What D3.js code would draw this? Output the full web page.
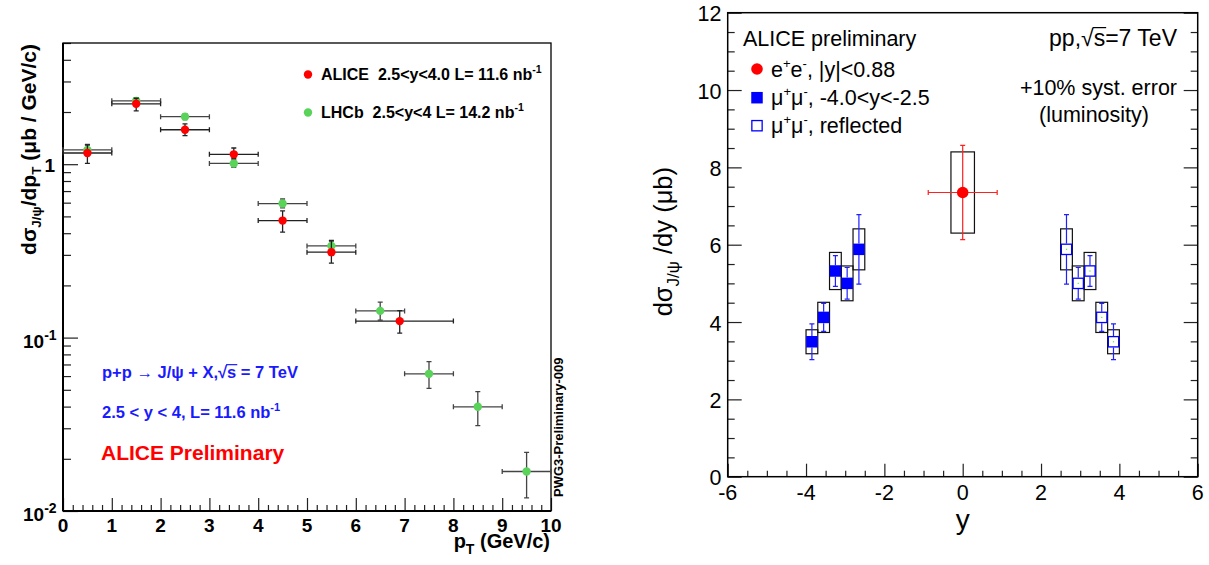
<!DOCTYPE html>
<html><head><meta charset="utf-8">
<script src="https://cdn.jsdelivr.net/npm/d3@7"></script>
<style>
body{margin:0;background:#fff}
svg{display:block}
text{font-family:"Liberation Sans",Arial,Helvetica,sans-serif;white-space:pre}
</style>
</head><body>
<svg id="c" width="1209" height="565"></svg>
<script>
// ---------- LEFT PANEL DATA (dsigma/dpT, log scale) ----------
const aliceX   = [0.5, 1.5, 2.5, 3.5, 4.5, 5.5, 6.9];
const aliceXlo = [0, 1, 2, 3, 4, 5, 6];
const aliceXhi = [1, 2, 3, 4, 5, 6, 8];
const aliceY   = [1.16, 2.23, 1.58, 1.14, 0.473, 0.311, 0.1245];
const aliceYhi = [1.29, 2.40, 1.71, 1.24, 0.538, 0.363, 0.143];
const aliceYlo = [1.01, 2.03, 1.46, 1.077, 0.406, 0.269, 0.106];

const lhcbX   = [0.5, 1.5, 2.5, 3.5, 4.5, 5.5, 6.5, 7.5, 8.5, 9.5];
const lhcbY   = [1.21, 2.32, 1.88, 1.01, 0.593, 0.338, 0.1426, 0.0618, 0.0399, 0.0169];
const lhcbYhi = [1.30, 2.42, 1.95, 1.06, 0.63, 0.36, 0.160, 0.0727, 0.0488, 0.0218];
const lhcbYlo = [1.12, 2.22, 1.81, 0.96, 0.56, 0.32, 0.126, 0.0509, 0.0311, 0.0119];

const leftXTicks = [0,1,2,3,4,5,6,7,8,9,10];
const leftXTickLabels = ["0","1","2","3","4","5","6","7","8","9","10"];
const leftYTicks = [0.01, 0.1, 1];
const leftYTickBase = ["10","10","1"];
const leftYTickSup  = ["-2","-1",""];

// ---------- RIGHT PANEL DATA (dsigma/dy) ----------
const muY    = [-3.85, -3.55, -3.25, -2.95, -2.65];
const muVal  = [3.49, 4.12, 5.32, 5.00, 5.88];
const muStat = [0.46, 0.36, 0.40, 0.41, 0.90];
const muSyst = [0.31, 0.39, 0.48, 0.45, 0.53];
const muBinHalf = 0.15;

const eeY = [0];
const eeVal = [7.35];
const eeStat = [1.22];
const eeXerr = [0.88];
const eeSyst = [1.05];
const eeBoxHalf = 0.3;

const rightXTicks = [-6,-4,-2,0,2,4,6];
const rightXTickLabels = ["-6","-4","-2","0","2","4","6"];
const rightYTicks = [0,2,4,6,8,10,12];
const rightYTickLabels = ["0","2","4","6","8","10","12"];

const svg = d3.select("#c");

function overline(textSel, idx, col){
  const n = textSel.node();
  const a = n.getStartPositionOfChar(idx), b = n.getEndPositionOfChar(idx);
  const ext = n.getExtentOfChar(idx);
  const ytop = ext.y + ext.height*0.12;
  svg.append("line").attr("x1",a.x-1).attr("x2",b.x+1).attr("y1",ytop).attr("y2",ytop)
    .attr("stroke", col||"#000").attr("stroke-width",1.2);
}

// ================= LEFT PANEL =================
const xL = d3.scaleLinear().domain([0,10]).range([63,551]);
const yL = d3.scaleLog().domain([0.01,5]).range([511,43]);
const gL = svg.append("g");

const minorXL = d3.range(0,10.001,0.2).filter(v=>Math.abs(v-Math.round(v))>1e-6);
gL.append("g").attr("transform",`translate(0,${yL(0.01)})`)
  .call(d3.axisBottom(xL).tickValues(minorXL).tickSize(-6).tickFormat(""))
  .call(g=>g.select(".domain").remove());
gL.append("g").attr("transform",`translate(0,${yL(0.01)})`)
  .call(d3.axisBottom(xL).tickValues(leftXTicks).tickSize(-13).tickFormat(""))
  .call(g=>g.select(".domain").remove());
const minorYL=[];
[0.01,0.1,1].forEach(d=>{for(let k=2;k<=9;k++){const v=k*d; if(v<=5) minorYL.push(v);}});
gL.append("g").attr("transform",`translate(${xL(0)},0)`)
  .call(d3.axisLeft(yL).tickValues(minorYL).tickSize(-8).tickFormat(""))
  .call(g=>g.select(".domain").remove());
gL.append("g").attr("transform",`translate(${xL(0)},0)`)
  .call(d3.axisLeft(yL).tickValues(leftYTicks).tickSize(-15).tickFormat(""))
  .call(g=>g.select(".domain").remove());
gL.selectAll(".tick line").attr("stroke","#222").attr("stroke-width",1.2);

gL.append("rect").attr("x",xL(0)).attr("y",yL(5)).attr("width",xL(10)-xL(0)).attr("height",yL(0.01)-yL(5))
  .attr("fill","none").attr("stroke","#000").attr("stroke-width",1.3);
gL.append("line").attr("x1",xL(0)).attr("x2",xL(0)).attr("y1",yL(5)).attr("y2",yL(0.01)).attr("stroke","#000").attr("stroke-width",2);
gL.append("line").attr("x1",xL(0)).attr("x2",xL(10)).attr("y1",yL(0.01)).attr("y2",yL(0.01)).attr("stroke","#000").attr("stroke-width",2);

leftXTicks.forEach((v,i)=>{
  gL.append("text").attr("x",xL(v)).attr("y",531.5).attr("text-anchor","middle")
    .attr("font-size",19).attr("font-weight","bold").text(leftXTickLabels[i]);
});
leftYTicks.forEach((v,i)=>{
  const t = gL.append("text").attr("font-size",19).attr("font-weight","bold");
  if(leftYTickSup[i]){
    t.attr("x",23).attr("y",yL(v)+10);
    t.append("tspan").text(leftYTickBase[i]);
    t.append("tspan").attr("font-size",14).attr("dy",-8).text(leftYTickSup[i]);
  } else {
    t.attr("x",55).attr("y",yL(v)+8).attr("text-anchor","end").text(leftYTickBase[i]);
  }
});

const ytl = gL.append("text").attr("transform","translate(36,44) rotate(-90)")
  .attr("text-anchor","end").attr("font-size",21).attr("font-weight","bold");
ytl.append("tspan").text("dσ");
ytl.append("tspan").attr("font-size",13.5).attr("dy",5).text("J/ψ");
ytl.append("tspan").attr("dy",-5).text("/dp");
ytl.append("tspan").attr("font-size",13.5).attr("dy",5).text("T");
ytl.append("tspan").attr("dy",-5).text(" (μb / GeV/c)");

const xtl = gL.append("text").attr("x",550).attr("y",548).attr("text-anchor","end")
  .attr("font-size",20).attr("font-weight","bold");
xtl.append("tspan").text("p");
xtl.append("tspan").attr("font-size",14).attr("dy",6).text("T");
xtl.append("tspan").attr("dy",-6).text(" (GeV/c)");

function errBarsLog(g, X, Xlo, Xhi, Y, Ylo, Yhi, col){
  const cap=2.5;
  X.forEach((x,i)=>{
    const cx=xL(x), cy=yL(Y[i]);
    const x0=xL(Xlo[i]), x1=xL(Xhi[i]);
    const y0=yL(Ylo[i]), y1=yL(Yhi[i]);
    const p = `M${x0},${cy}H${x1}M${x0},${cy-cap}V${cy+cap}M${x1},${cy-cap}V${cy+cap}`+
              `M${cx},${y0}V${y1}M${cx-cap},${y0}H${cx+cap}M${cx-cap},${y1}H${cx+cap}`;
    g.append("path").attr("d",p).attr("stroke",col).attr("stroke-width",1.3).attr("fill","none");
  });
}
errBarsLog(gL, lhcbX, lhcbX.map(v=>v-0.5), lhcbX.map(v=>v+0.5), lhcbY, lhcbYlo, lhcbYhi, "#444");
lhcbX.forEach((x,i)=>gL.append("circle").attr("cx",xL(x)).attr("cy",yL(lhcbY[i])).attr("r",4.2).attr("fill","#5ad35a"));
errBarsLog(gL, aliceX, aliceXlo, aliceXhi, aliceY, aliceYlo, aliceYhi, "#222");
aliceX.forEach((x,i)=>gL.append("circle").attr("cx",xL(x)).attr("cy",yL(aliceY[i])).attr("r",4.2).attr("fill","#ff0000"));

// legend
gL.append("circle").attr("cx",308).attr("cy",74.5).attr("r",4.2).attr("fill","#ff0000");
const l1 = gL.append("text").attr("x",321).attr("y",80).attr("font-size",16).attr("font-weight","bold");
l1.append("tspan").text("ALICE  2.5<y<4.0 L= 11.6 nb");
l1.append("tspan").attr("font-size",10.5).attr("dy",-7).text("-1");
gL.append("circle").attr("cx",308).attr("cy",112.5).attr("r",4.2).attr("fill","#5ad35a");
const l2 = gL.append("text").attr("x",321).attr("y",118).attr("font-size",16).attr("font-weight","bold");
l2.append("tspan").text("LHCb  2.5<y<4 L= 14.2 nb");
l2.append("tspan").attr("font-size",10.5).attr("dy",-7).text("-1");

// blue annotations
const b1 = gL.append("text").attr("x",102).attr("y",377.5).attr("font-size",16.5).attr("font-weight","bold").attr("fill","#1a1aff")
  .text("p+p → J/ψ + X,√s = 7 TeV");
overline(b1, "p+p → J/ψ + X,√".length, "#1a1aff");
const b2 = gL.append("text").attr("x",102).attr("y",417.5).attr("font-size",16.5).attr("font-weight","bold").attr("fill","#1a1aff");
b2.append("tspan").text("2.5 < y < 4, L= 11.6 nb");
b2.append("tspan").attr("font-size",11).attr("dy",-7).text("-1");
gL.append("text").attr("x",101).attr("y",460).attr("font-size",21).attr("font-weight","bold").attr("fill","#ff0000")
  .text("ALICE Preliminary");
gL.append("text").attr("transform","translate(563,497) rotate(-90)").attr("font-size",13).attr("font-weight","bold")
  .text("PWG3-Preliminary-009");

// ================= RIGHT PANEL =================
const xR = d3.scaleLinear().domain([-6,6]).range([727.7,1197.7]);
const yR = d3.scaleLinear().domain([0,12]).range([476.7,12.7]);
const gR = svg.append("g");

const minorXR = d3.range(-6,6.001,0.5).filter(v=>Math.abs(v/2-Math.round(v/2))>1e-6);
gR.append("g").attr("transform",`translate(0,${yR(0)})`)
  .call(d3.axisBottom(xR).tickValues(minorXR).tickSize(-6).tickFormat(""))
  .call(g=>g.select(".domain").remove());
gR.append("g").attr("transform",`translate(0,${yR(0)})`)
  .call(d3.axisBottom(xR).tickValues(rightXTicks).tickSize(-13).tickFormat(""))
  .call(g=>g.select(".domain").remove());
const minorYR = d3.range(0,12.001,0.5).filter(v=>Math.abs(v/2-Math.round(v/2))>1e-6);
[[xR(-6),d3.axisLeft],[xR(6),d3.axisRight]].forEach(([px,ax])=>{
  gR.append("g").attr("transform",`translate(${px},0)`)
    .call(ax(yR).tickValues(minorYR).tickSize(-7).tickFormat(""))
    .call(g=>g.select(".domain").remove());
  gR.append("g").attr("transform",`translate(${px},0)`)
    .call(ax(yR).tickValues(rightYTicks).tickSize(-14).tickFormat(""))
    .call(g=>g.select(".domain").remove());
});
gR.selectAll(".tick line").attr("stroke","#222").attr("stroke-width",1.2);
gR.append("rect").attr("x",xR(-6)).attr("y",yR(12)).attr("width",xR(6)-xR(-6)).attr("height",yR(0)-yR(12))
  .attr("fill","none").attr("stroke","#000").attr("stroke-width",1.5);

rightXTicks.forEach((v,i)=>{
  gR.append("text").attr("x",xR(v)).attr("y",500).attr("text-anchor","middle").attr("font-size",21.5).text(rightXTickLabels[i]);
});
rightYTicks.forEach((v,i)=>{
  gR.append("text").attr("x",721.5).attr("y",yR(v)+8.5).attr("text-anchor","end").attr("font-size",21.5).text(rightYTickLabels[i]);
});

const ytr = gR.append("text").attr("transform","translate(671.5,167) rotate(-90)").attr("text-anchor","end").attr("font-size",25.5);
ytr.append("tspan").text("dσ");
ytr.append("tspan").attr("font-size",17).attr("dy",7).text("J/ψ");
ytr.append("tspan").attr("dy",-7).text(" /dy (μb)");
gR.append("text").attr("x",xR(0)).attr("y",529).attr("text-anchor","middle").attr("font-size",28).text("y");

// syst boxes
muY.forEach((y,i)=>{
  [y,-y].forEach(yy=>{
    gR.append("rect").attr("x",xR(yy-muBinHalf)).attr("y",yR(muVal[i]+muSyst[i]))
      .attr("width",xR(yy+muBinHalf)-xR(yy-muBinHalf)).attr("height",yR(muVal[i]-muSyst[i])-yR(muVal[i]+muSyst[i]))
      .attr("fill","none").attr("stroke","#111").attr("stroke-width",1.2);
  });
});
eeY.forEach((y,i)=>{
  gR.append("rect").attr("x",xR(y-eeBoxHalf)).attr("y",yR(eeVal[i]+eeSyst[i]))
    .attr("width",xR(y+eeBoxHalf)-xR(y-eeBoxHalf)).attr("height",yR(eeVal[i]-eeSyst[i])-yR(eeVal[i]+eeSyst[i]))
    .attr("fill","none").attr("stroke","#111").attr("stroke-width",1.2);
});
const ms=11.5;
function vbar(g,x,val,err,col,gap){
  const cap=2.5, cx=xR(x), cy=yR(val), y0=yR(val-err), y1=yR(val+err);
  g.append("path").attr("d",`M${cx},${y0}V${cy+gap}M${cx},${cy-gap}V${y1}M${cx-cap},${y0}H${cx+cap}M${cx-cap},${y1}H${cx+cap}`)
    .attr("stroke",col).attr("stroke-width",1.2).attr("fill","none");
}
muY.forEach((y,i)=>{
  vbar(gR,y,muVal[i],muStat[i],"#2020ff",ms/2);
  vbar(gR,-y,muVal[i],muStat[i],"#2020ff",ms/2);
});
muY.forEach((y,i)=>{
  gR.append("rect").attr("x",xR(y)-ms/2).attr("y",yR(muVal[i])-ms/2).attr("width",ms).attr("height",ms).attr("fill","#0000ff");
  gR.append("rect").attr("x",xR(-y)-ms/2+0.6).attr("y",yR(muVal[i])-ms/2+0.6).attr("width",ms-1.2).attr("height",ms-1.2)
    .attr("fill","none").attr("stroke","#0000ff").attr("stroke-width",1.3);
  gR.append("rect").attr("x",xR(-y)-0.6).attr("y",yR(muVal[i])-0.6).attr("width",1.2).attr("height",1.2).attr("fill","#44ee44");
});
eeY.forEach((y,i)=>{
  vbar(gR,y,eeVal[i],eeStat[i],"#ff2020",0);
  const cy=yR(eeVal[i]), x0=xR(y-eeXerr[i]), x1=xR(y+eeXerr[i]);
  gR.append("path").attr("d",`M${x0},${cy}H${x1}M${x0},${cy-2.5}V${cy+2.5}M${x1},${cy-2.5}V${cy+2.5}`)
    .attr("stroke","#ff2020").attr("stroke-width",1.2).attr("fill","none");
  gR.append("circle").attr("cx",xR(y)).attr("cy",cy).attr("r",5.8).attr("fill","#ff0000");
});

// legend
gR.append("text").attr("x",743).attr("y",45.5).attr("font-size",21.5).text("ALICE preliminary");
gR.append("circle").attr("cx",757).attr("cy",69).attr("r",5.8).attr("fill","#ff0000");
gR.append("rect").attr("x",757-ms/2).attr("y",97.7-ms/2).attr("width",ms).attr("height",ms).attr("fill","#0000ff");
gR.append("rect").attr("x",757-ms/2+0.6).attr("y",125.7-ms/2+0.6).attr("width",ms-1.2).attr("height",ms-1.2).attr("fill","none").attr("stroke","#0000ff").attr("stroke-width",1.3);
function legText(y, parts){
  const t=gR.append("text").attr("x",771).attr("y",y).attr("font-size",21.5);
  let cur=0;
  parts.forEach(([s,sup])=>{
    const target = sup ? -9 : 0;
    const ts = t.append("tspan").attr("dy",target-cur).text(s);
    if(sup) ts.attr("font-size",13);
    cur=target;
  });
}
legText(76.5, [["e"],["+",1],["e"],["-",1],[", |y|<0.88"]]);
legText(105, [["μ"],["+",1],["μ"],["-",1],[", -4.0<y<-2.5"]]);
legText(133, [["μ"],["+",1],["μ"],["-",1],[", reflected"]]);

const pp = gR.append("text").attr("x",1177).attr("y",45.5).attr("text-anchor","end").attr("font-size",23).text("pp,√s=7 TeV");
overline(pp, 4, "#000");
gR.append("text").attr("x",1177).attr("y",94.5).attr("text-anchor","end").attr("font-size",21.5).text("+10% syst. error");
gR.append("text").attr("x",1094).attr("y",122).attr("text-anchor","middle").attr("font-size",21.5).text("(luminosity)");
</script>
</body></html>
